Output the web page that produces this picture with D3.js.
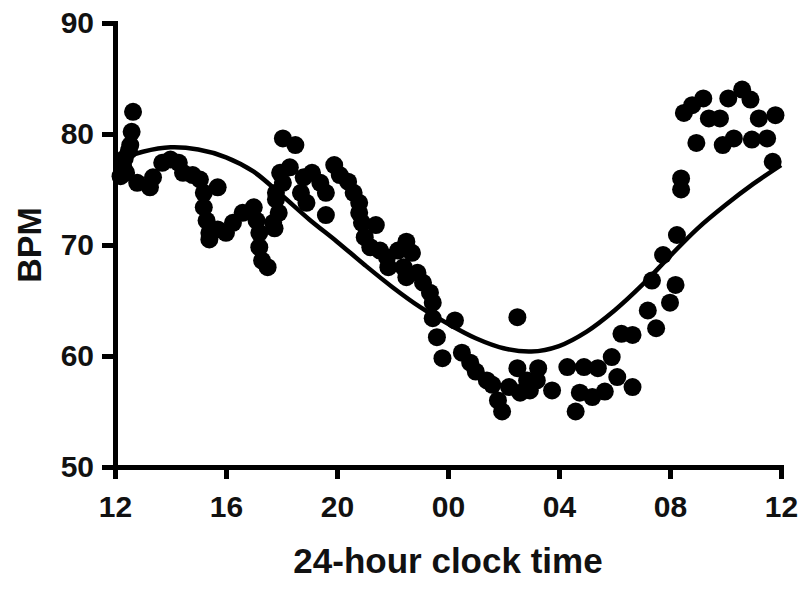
<!DOCTYPE html>
<html>
<head>
<meta charset="utf-8">
<script src="https://cdn.jsdelivr.net/npm/d3@7"></script>
<style>
  body { margin: 0; background: #fff; }
  svg text { font-family: "Liberation Sans", Arial, sans-serif; font-weight: bold; fill: #111; }
</style>
</head>
<body>
<svg id="chart" width="802" height="590"></svg>
<script>
// scatter points: clock hour (12 = noon day 1, 36 = noon day 2) and heart rate
var ptHour = [12.2, 12.3, 12.35, 12.5, 12.55, 12.4, 12.6, 12.65, 12.8, 13.26, 13.37, 13.7, 14.0, 14.3,
  14.45, 14.8, 15.06, 15.7, 15.2, 15.2, 15.3, 15.4, 15.4, 15.7, 16.0, 16.25, 16.6, 17.0,
  17.1, 17.2, 17.2, 17.3, 17.5, 17.7, 17.9, 18.05, 18.5, 18.3, 17.95, 18.05, 17.8, 17.8,
  17.75, 18.8, 18.7, 18.9, 19.1, 19.4, 19.6, 19.6, 19.9, 20.1, 20.4, 20.6, 20.8, 20.8,
  20.9, 21.4, 21.0, 21.2, 21.55, 21.8, 21.85, 22.2, 22.5, 22.7, 22.4, 22.5, 22.9, 23.1,
  23.35, 23.45, 23.45, 24.25, 23.6, 23.8, 24.5, 24.8, 25.0, 25.4, 25.6, 25.8, 25.95, 26.2,
  26.5, 26.5, 26.85, 26.6, 26.95, 27.2, 27.25, 27.75, 28.3, 28.9, 29.4, 29.9, 28.75, 29.2,
  29.65, 28.6, 30.1, 30.25, 30.65, 30.65, 31.5, 31.2, 32.0, 32.2, 31.35, 31.75, 32.25, 32.4,
  32.4, 32.95, 33.9, 34.3, 34.95, 35.5, 35.7, 32.5, 32.8, 33.2, 33.4, 33.8, 34.1, 34.6,
  34.9, 35.2, 35.8];
var ptBpm = [76.2, 77.0, 77.8, 78.5, 79.0, 76.5, 80.2, 82.0, 75.6, 75.2, 76.1, 77.4, 77.7, 77.4,
  76.5, 76.3, 75.9, 75.2, 74.7, 73.4, 72.2, 71.1, 70.5, 71.4, 71.1, 72.0, 72.9, 73.4,
  72.2, 71.1, 69.8, 68.6, 68.0, 72.0, 72.9, 79.6, 79.0, 77.0, 76.5, 75.6, 74.7, 74.1,
  71.5, 76.1, 74.7, 73.8, 76.5, 75.6, 74.7, 72.7, 77.2, 76.3, 75.7, 74.7, 73.8, 72.9,
  72.0, 71.8, 70.7, 69.8, 69.5, 68.9, 68.0, 69.5, 70.3, 69.3, 68.0, 67.1, 67.5, 66.6,
  65.7, 64.8, 63.4, 63.2, 61.7, 59.8, 60.3, 59.4, 58.6, 57.8, 57.4, 56.0, 55.0, 57.2,
  58.9, 63.5, 57.8, 56.7, 56.9, 57.8, 58.9, 56.9, 59.0, 59.0, 58.9, 59.9, 56.7, 56.3,
  56.8, 55.0, 58.1, 62.0, 61.9, 57.2, 62.5, 64.1, 64.8, 66.4, 66.8, 69.1, 70.9, 76.0,
  75.0, 79.2, 79.0, 79.6, 79.5, 79.6, 77.5, 81.9, 82.6, 83.2, 81.4, 81.4, 83.2, 84.0,
  83.1, 81.4, 81.7];

// fitted rhythm curve
var fitHour = [12, 13, 14, 15, 16, 17, 18, 19, 20, 21, 22, 23, 24, 25, 26, 27, 28, 29, 30, 31, 32, 33, 34, 35, 36];
var fitBpm = [77.6, 78.4, 78.8, 78.6, 77.9, 76.6, 74.5, 72.3, 70.3, 68.2, 66.2, 64.4, 62.9, 61.6,
  60.7, 60.4, 60.9, 62.2, 64.1, 66.4, 69.0, 71.5, 73.6, 75.5, 77.2];

var xTicks = [12, 16, 20, 24, 28, 32, 36];
var xTickLabels = ["12", "16", "20", "00", "04", "08", "12"];
var yTicks = [50, 60, 70, 80, 90];

var svg = d3.select("#chart");

var x = d3.scaleLinear()
    .domain([12, 36])
    .range([115, 781]);

var y = d3.scaleLinear()
    .domain([50, 90])
    .range([467, 23]);

// points
svg.append("g").selectAll("circle")
  .data(ptHour)
  .enter().append("circle")
    .attr("cx", function(d) { return x(d); })
    .attr("cy", function(d, i) { return y(ptBpm[i]); })
    .attr("r", 9)
    .style("fill", "#000");

// fitted curve
var line = d3.line()
    .x(function(d) { return x(d); })
    .y(function(d, i) { return y(fitBpm[i]); })
    .curve(d3.curveCatmullRom);

svg.append("path")
    .datum(fitHour)
    .attr("d", line)
    .style("fill", "none")
    .style("stroke", "#000")
    .style("stroke-width", 4.5);

// axes
var xAxis = svg.append("g")
    .attr("transform", "translate(0," + y(50) + ")")
    .call(d3.axisBottom(x)
      .tickValues(xTicks)
      .tickFormat(function(d, i) { return xTickLabels[i]; })
      .tickSizeOuter(0)
      .tickSize(12)
      .tickPadding(17));

var yAxis = svg.append("g")
    .attr("transform", "translate(" + x(12) + ",0)")
    .call(d3.axisLeft(y)
      .tickValues(yTicks)
      .tickSizeOuter(0)
      .tickSize(13)
      .tickPadding(8));

svg.selectAll(".domain, .tick line")
    .style("stroke", "#000")
    .style("stroke-width", 5);
svg.selectAll(".tick text")
    .style("font-size", "30px")
    .style("font-family", "'Liberation Sans', Arial, sans-serif")
    .style("font-weight", "bold")
    .style("fill", "#111");

// axis titles
svg.append("text")
    .attr("x", (x(12) + x(36)) / 2)
    .attr("y", 573)
    .attr("text-anchor", "middle")
    .style("font-size", "35px")
    .text("24-hour clock time");

svg.append("text")
    .attr("transform", "translate(41," + y(70) + ") rotate(-90)")
    .attr("text-anchor", "middle")
    .style("font-size", "34px")
    .text("BPM");
</script>
</body>
</html>
